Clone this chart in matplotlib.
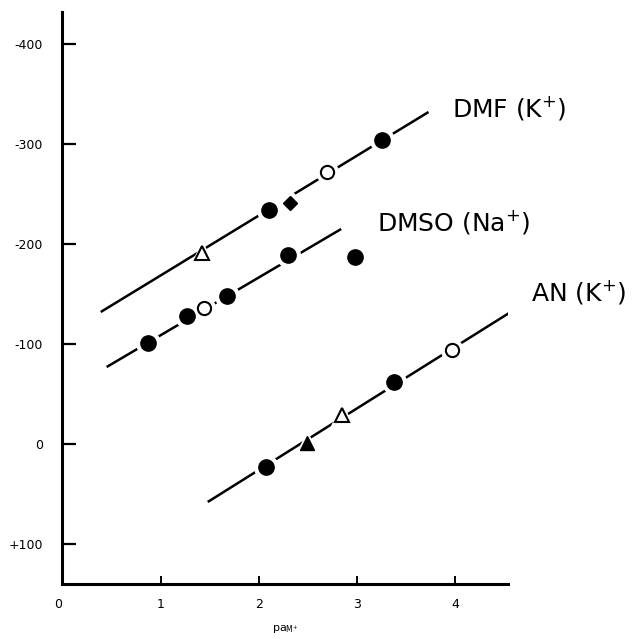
import matplotlib
matplotlib.use("Agg")
import matplotlib.pyplot as plt

plt.rcParams['font.family'] = 'DejaVu Sans'
plt.rcParams['mathtext.default'] = 'regular'

# DMF (K+)
dmf_line_x = [0.39, 3.73]
dmf_line_y = [-132, -332]
dmf_filled_x = [2.10, 3.26]
dmf_filled_y = [-234, -304]
dmf_open_x = [2.70]
dmf_open_y = [-272]
dmf_opentri_x = [1.42]
dmf_opentri_y = [-191]
dmf_diamond_x = [2.32]
dmf_diamond_y = [-241]

# DMSO (Na+)
dmso_line_x = [0.45, 2.84]
dmso_line_y = [-77, -215]
dmso_filled_x = [0.87, 1.27, 1.68, 2.30, 2.98]
dmso_filled_y = [-101, -128, -148, -189, -187]
dmso_open_x = [1.44]
dmso_open_y = [-136]

# AN (K+)
an_line_x = [1.48, 4.60]
an_line_y = [58, -134]
an_filled_x = [2.07, 3.38]
an_filled_y = [23, -62]
an_filltri_x = [2.49]
an_filltri_y = [-1]
an_opentri_x = [2.85]
an_opentri_y = [-29]
an_open_x = [3.97]
an_open_y = [-94]

yticks = [-400, -300, -200, -100, 0, 100]
ytick_labels = ['-400', '-300', '-200', '-100', '0', '+100']
xticks = [0, 1, 2, 3, 4]


def pts(ax, x, y, marker, size, filled):
    # white halo first so the line looks broken around each symbol
    ax.plot(x, y, linestyle='none', marker=marker, markersize=size + 6,
            color='white', markeredgecolor='white', zorder=3)
    if filled:
        ax.plot(x, y, linestyle='none', marker=marker, markersize=size,
                color='black', zorder=4)
    else:
        ax.plot(x, y, linestyle='none', marker=marker, markersize=size,
                markerfacecolor='white', markeredgecolor='black',
                markeredgewidth=1.5, zorder=4)


fig = plt.figure(figsize=(6.42, 6.39), dpi=100)
ax = fig.add_axes([0.0973, 0.0861, 0.6940, 0.8951])

for lx, ly in [(dmf_line_x, dmf_line_y), (dmso_line_x, dmso_line_y), (an_line_x, an_line_y)]:
    ax.plot(lx, ly, color='black', linewidth=1.8, solid_capstyle='butt', zorder=2)

pts(ax, dmf_filled_x, dmf_filled_y, 'o', 11, True)
pts(ax, dmf_open_x, dmf_open_y, 'o', 9.5, False)
pts(ax, dmf_opentri_x, dmf_opentri_y, '^', 10, False)
pts(ax, dmf_diamond_x, dmf_diamond_y, 'D', 7, True)

pts(ax, dmso_filled_x, dmso_filled_y, 'o', 11, True)
pts(ax, dmso_open_x, dmso_open_y, 'o', 9.5, False)

pts(ax, an_filled_x, an_filled_y, 'o', 11, True)
pts(ax, an_filltri_x, an_filltri_y, '^', 10, True)
pts(ax, an_opentri_x, an_opentri_y, '^', 10, False)
pts(ax, an_open_x, an_open_y, 'o', 9.5, False)

ax.text(3.97, -336, 'DMF (K$^{+}$)', fontsize=18, va='center', ha='left')
ax.text(3.20, -222, 'DMSO (Na$^{+}$)', fontsize=18, va='center', ha='left')
ax.text(4.77, -152, 'AN (K$^{+}$)', fontsize=18, va='center', ha='left')

ax.set_xlim(0, 4.54)
ax.set_ylim(140, -432)

ax.spines['top'].set_visible(False)
ax.spines['right'].set_visible(False)
ax.spines['left'].set_linewidth(2.2)
ax.spines['bottom'].set_linewidth(2.2)

ax.set_yticks(yticks)
ax.set_yticklabels(ytick_labels)
ax.set_xticks(xticks)
ax.set_xticklabels([str(t) for t in xticks])
ax.get_xticklabels()[0].set_ha('right')

ax.tick_params(axis='y', direction='in', length=10, width=1.6, pad=14, labelsize=9)
ax.tick_params(axis='x', direction='in', length=6, width=1.4, pad=10, labelsize=9)

ax.set_xlabel('pa$_{M^{+}}$', fontsize=8, labelpad=9)

fig.savefig('out.png', dpi=100)
